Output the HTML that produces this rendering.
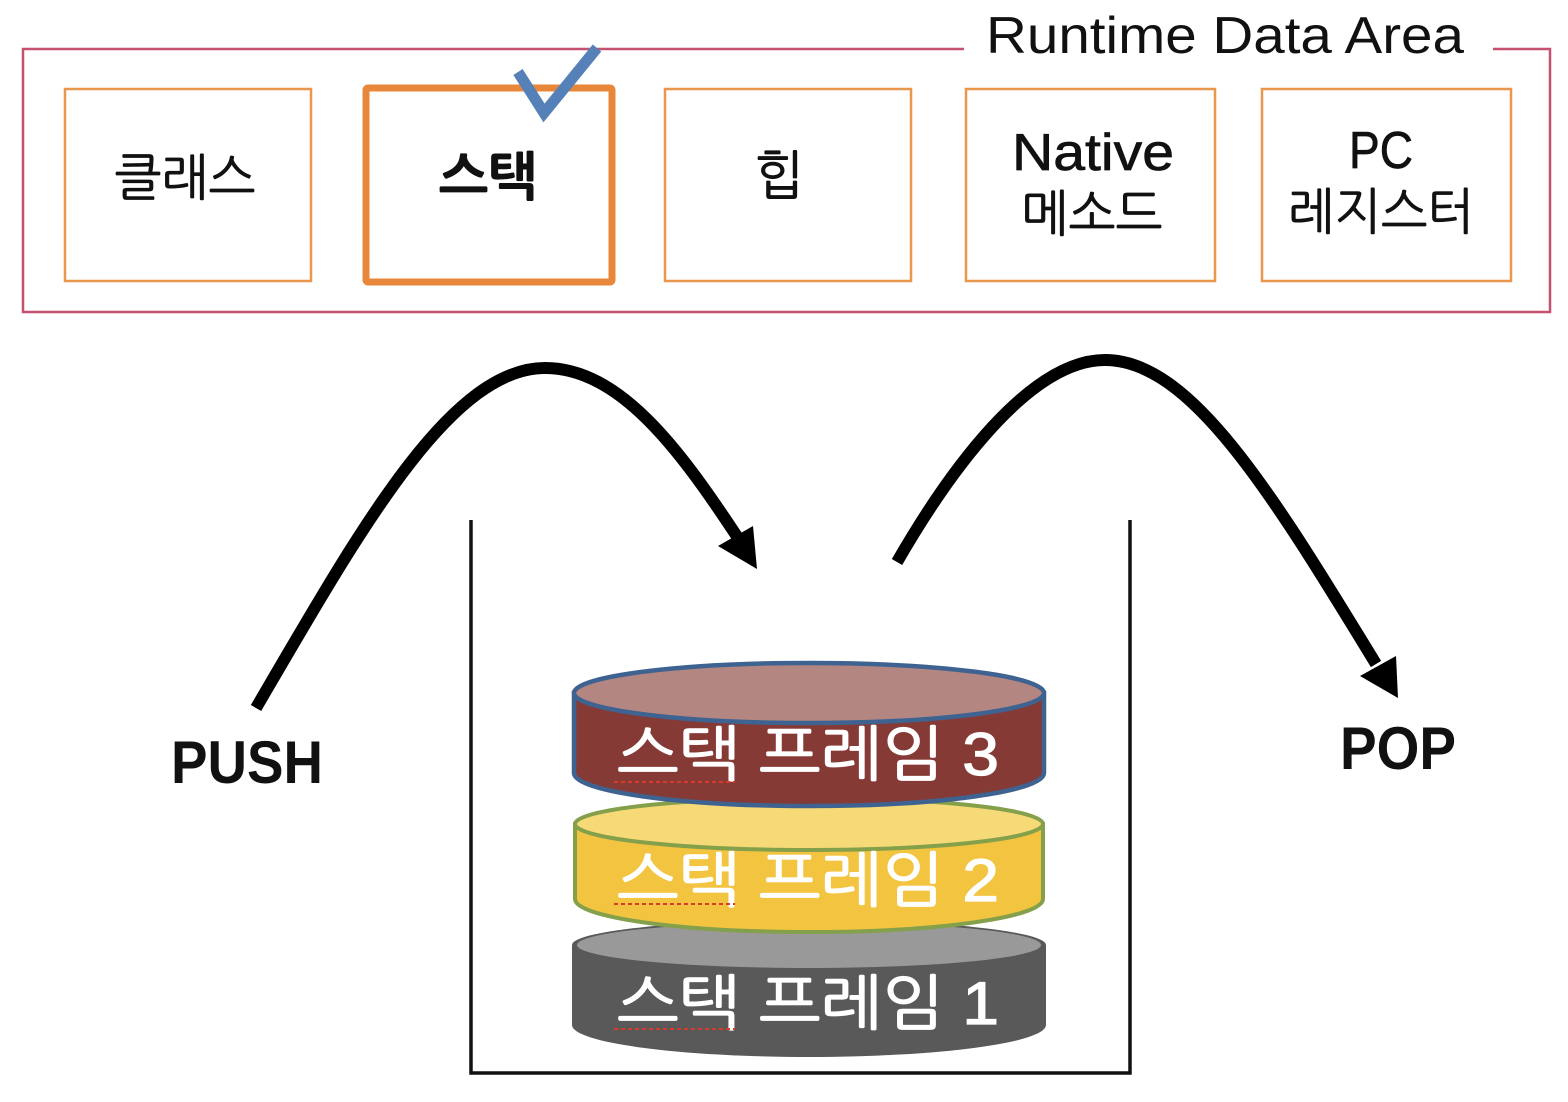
<!DOCTYPE html>
<html lang="ko"><head><meta charset="utf-8"><title>Runtime Data Area</title>
<style>html,body{margin:0;padding:0;background:#fff}svg{display:block}
text{font-family:"Liberation Sans","NanumGothic","Noto Sans CJK KR",sans-serif;text-anchor:middle;fill:#111}
.w{fill:#fff;stroke:#fff;stroke-width:1.3}
.t{stroke:#111;stroke-width:.7}</style></head><body>
<svg width="1568" height="1102" viewBox="0 0 1568 1102" xmlns="http://www.w3.org/2000/svg">
<path d="M964 49H23V312H1550V49H1493" fill="none" stroke="#c5506f" stroke-width="2.5"/>
<text x="1225" y="53" font-size="52" textLength="478" lengthAdjust="spacingAndGlyphs">Runtime Data Area</text>
<g fill="#fff" stroke="#e9964f" stroke-width="2.5">
<rect x="65" y="89" width="246" height="192"/><rect x="665" y="89" width="246" height="192"/>
<rect x="966" y="89" width="249" height="192"/><rect x="1262" y="89" width="249" height="192"/></g>
<rect x="366" y="88" width="246" height="194" rx="2" fill="#fff" stroke="#e8873a" stroke-width="7"/>
<path d="M518 72L544 113L597 48" fill="none" stroke="#5681b8" stroke-width="11"/>
<text class="t" x="185" y="195" font-size="50">클래스</text>
<text x="488" y="195" font-size="52" font-weight="bold" stroke="#111" stroke-width="1">스택</text>
<text class="t" x="779" y="194" font-size="53">힙</text>
<text class="t" x="1093" y="170" font-size="52" textLength="162" lengthAdjust="spacingAndGlyphs">Native</text>
<text class="t" x="1092" y="231" font-size="50">메소드</text>
<text class="t" x="1381" y="168" font-size="52" textLength="64" lengthAdjust="spacingAndGlyphs">PC</text>
<text class="t" x="1381" y="229" font-size="50" textLength="186" lengthAdjust="spacingAndGlyphs">레지스터</text>

<path d="M256 708C360 530 450 368 545 368C620 368 680 450 738 538" fill="none" stroke="#000" stroke-width="12"/>
<polygon points="718,546 753,526 757,569" fill="#000"/>
<path d="M897 562C950 470 1030 360 1105 360C1190 360 1270 490 1376 664" fill="none" stroke="#000" stroke-width="12"/>
<polygon points="1360,676 1396,656 1398,698" fill="#000"/>
<text x="247" y="783" font-size="60" font-weight="bold" textLength="152" lengthAdjust="spacingAndGlyphs">PUSH</text>
<text x="1398" y="769" font-size="60" font-weight="bold" textLength="116" lengthAdjust="spacingAndGlyphs">POP</text>
<path d="M471 520V1073H1130V520" fill="none" stroke="#111" stroke-width="3.5"/>

<path d="M572 945V1025A237 32 0 0 0 1046 1025V945Z" fill="#595959"/>
<ellipse cx="809" cy="945" rx="237" ry="25" fill="#595959"/>
<ellipse cx="809" cy="945" rx="232" ry="23" fill="#999"/>
<path d="M575 824V899A234 33 0 0 0 1043 899V824Z" fill="#f3c440" stroke="#84a04b" stroke-width="4"/>
<ellipse cx="809" cy="824" rx="234" ry="26" fill="#f7da78" stroke="#84a04b" stroke-width="4"/>
<path d="M574 693V773A235 33 0 0 0 1044 773V693Z" fill="#863a36" stroke="#3f6391" stroke-width="4.5"/>
<ellipse cx="809" cy="693" rx="235" ry="30" fill="#b48681" stroke="#3f6391" stroke-width="4.5"/>
<text class="w" x="808" y="775" font-size="60" textLength="382" lengthAdjust="spacingAndGlyphs">스택 프레임 3</text>
<text class="w" x="808" y="901" font-size="60" textLength="382" lengthAdjust="spacingAndGlyphs">스택 프레임 2</text>
<text class="w" x="808" y="1024" font-size="60" textLength="382" lengthAdjust="spacingAndGlyphs">스택 프레임 1</text>
<g fill="none" stroke="#d93a2e" stroke-width="2" stroke-dasharray="4 3">
<path d="M614 782H735"/><path d="M614 904H735"/><path d="M614 1029H735"/></g>
</svg></body></html>
